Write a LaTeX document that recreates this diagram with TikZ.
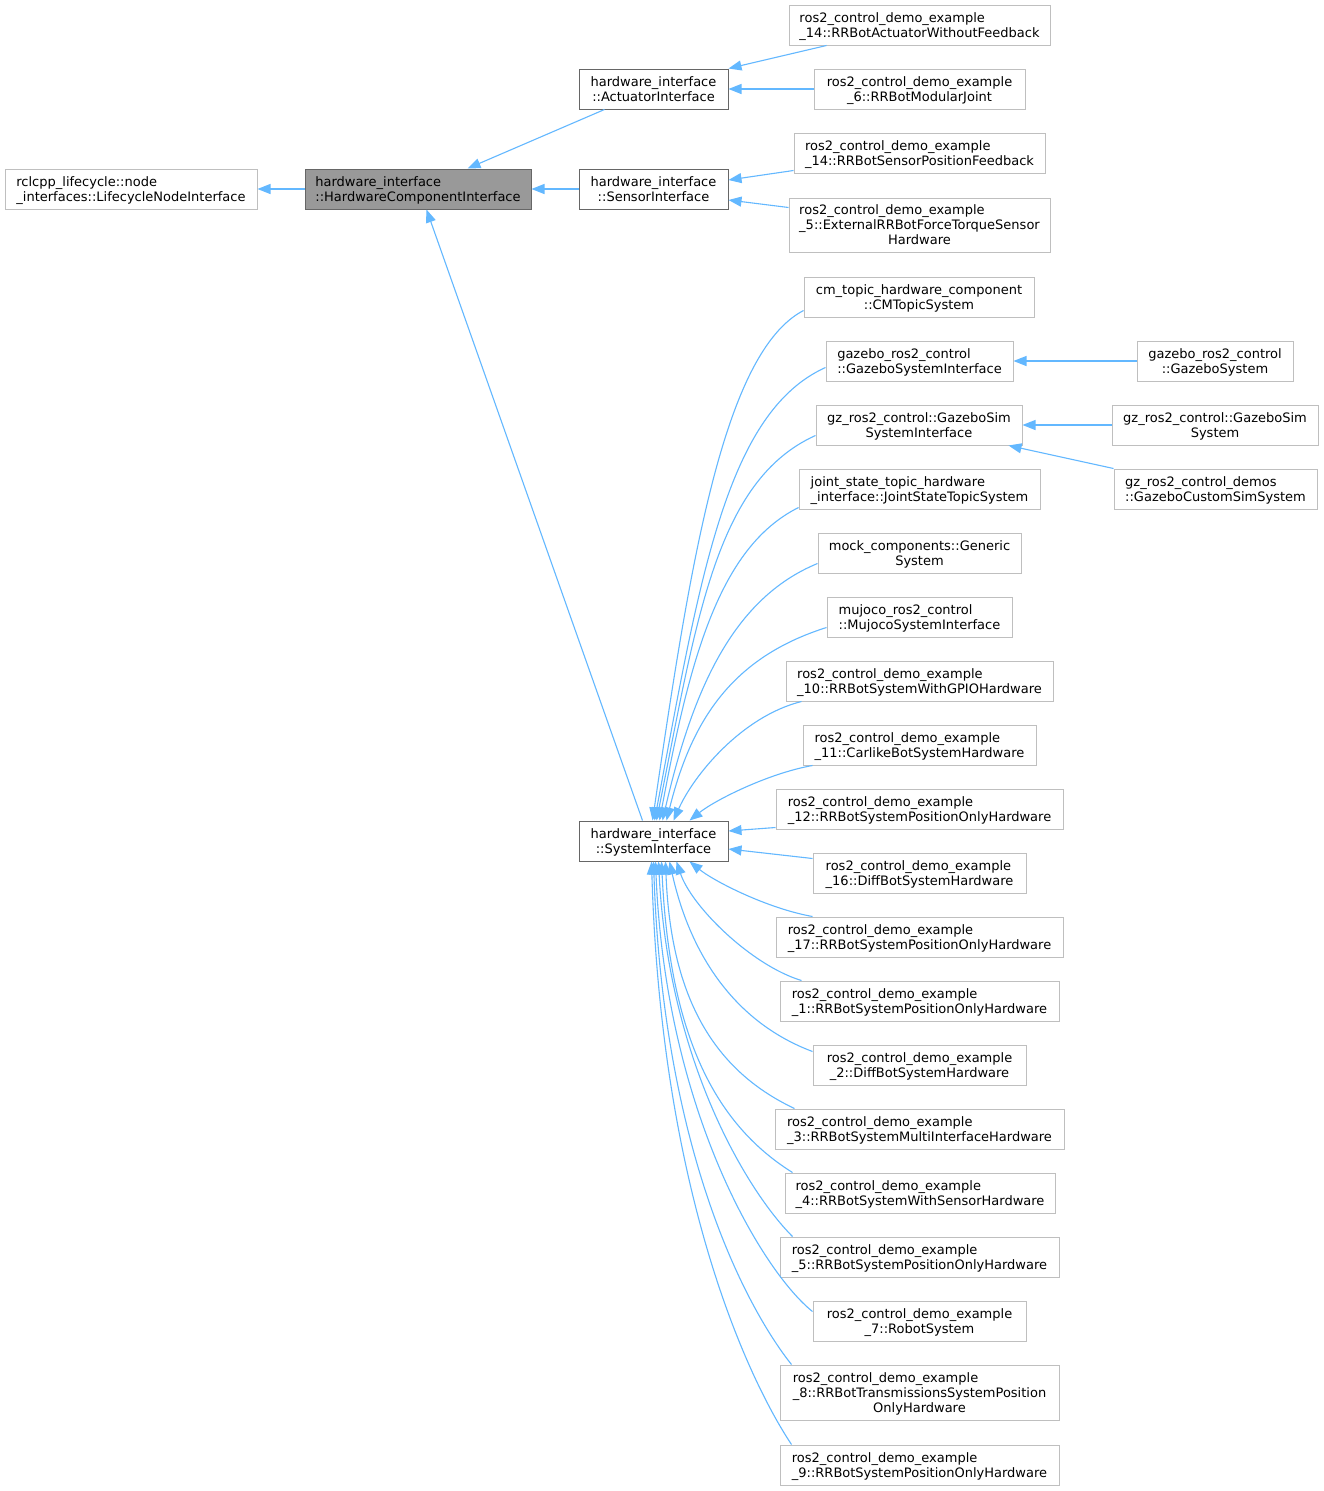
\documentclass[tikz,border=0pt]{standalone}
\usepackage{fontspec}
\setmainfont{DejaVu Sans}
\usetikzlibrary{arrows.meta}
\definecolor{edgec}{HTML}{63B8FF}
\definecolor{docb}{HTML}{666666}
\definecolor{extb}{HTML}{BFBFBF}
\definecolor{curf}{HTML}{999999}
\newcommand{\twoline}[2]{\raisebox{-1.5pt}[\height][\depth]{\begin{tabular}{@{}l@{}}#1\\\multicolumn{1}{@{}c@{}}{#2}\end{tabular}}}
\newcommand{\threeline}[3]{\raisebox{-1.5pt}[\height][\depth]{\begin{tabular}{@{}l@{}}#1\\#2\\\multicolumn{1}{@{}c@{}}{#3}\end{tabular}}}
\newcommand{\rex}{ros2\_control\_demo\_example}
\begin{document}
\begin{tikzpicture}[x=1pt,y=-1pt,
  cls/.style={rectangle, inner sep=0pt, minimum height=40pt, line width=1pt, font=\fontsize{13}{15}\selectfont, text=black, fill=white},
  leaf/.style={cls, draw=extb},
  doc/.style={cls, draw=docb},
  cur/.style={cls, draw=docb, fill=curf},
  inh/.style={draw=edgec, line width=1.1pt, -{Triangle[length=13pt,width=10pt]}}]
\useasboundingbox[fill=white] (0,0) rectangle (1324,1491);

% nodes
\node[leaf, minimum width=252pt] (life) at (131,189) {\twoline{rclcpp\_lifecycle::node}{\_interfaces::LifecycleNodeInterface}};
\node[cur, minimum width=226pt] (hwc) at (418,189) {\twoline{hardware\_interface}{::HardwareComponentInterface}};
\node[doc, minimum width=149pt] (act) at (653.5,89) {\twoline{hardware\_interface}{::ActuatorInterface}};
\node[doc, minimum width=149pt] (sen) at (653.5,189) {\twoline{hardware\_interface}{::SensorInterface}};
\node[doc, minimum width=149pt] (sys) at (653.5,841) {\twoline{hardware\_interface}{::SystemInterface}};

\node[leaf, minimum width=261pt] (a14) at (919.5,25) {\twoline{\rex}{\_14::RRBotActuatorWithoutFeedback}};
\node[leaf, minimum width=211pt] (a6) at (919.5,89) {\twoline{\rex}{\_6::RRBotModularJoint}};
\node[leaf, minimum width=251pt] (s14) at (919.5,153) {\twoline{\rex}{\_14::RRBotSensorPositionFeedback}};
\node[leaf, minimum width=261pt, minimum height=54pt] (s5) at (919.5,225) {\threeline{\rex}{\_5::ExternalRRBotForceTorqueSensor}{Hardware}};

\node[leaf, minimum width=230pt] (cm) at (919,297) {\twoline{cm\_topic\_hardware\_component}{::CMTopicSystem}};
\node[leaf, minimum width=187pt] (gzi) at (919.5,361) {\twoline{gazebo\_ros2\_control}{::GazeboSystemInterface}};
\node[leaf, minimum width=156pt] (gzs) at (1215,361) {\twoline{gazebo\_ros2\_control}{::GazeboSystem}};
\node[leaf, minimum width=206pt] (gzsi) at (919,425) {\twoline{gz\_ros2\_control::GazeboSim}{SystemInterface}};
\node[leaf, minimum width=206pt] (gzss) at (1215,425) {\twoline{gz\_ros2\_control::GazeboSim}{System}};
\node[leaf, minimum width=203pt] (gzd) at (1215.5,489) {\twoline{gz\_ros2\_control\_demos}{::GazeboCustomSimSystem}};
\node[leaf, minimum width=241pt] (jst) at (919.5,489) {\twoline{joint\_state\_topic\_hardware}{\_interface::JointStateTopicSystem}};
\node[leaf, minimum width=203pt] (mock) at (919.5,553) {\twoline{mock\_components::Generic}{System}};
\node[leaf, minimum width=185pt] (muj) at (919.5,617) {\twoline{mujoco\_ros2\_control}{::MujocoSystemInterface}};
\node[leaf, minimum width=267pt] (e10) at (919.5,681) {\twoline{\rex}{\_10::RRBotSystemWithGPIOHardware}};
\node[leaf, minimum width=233pt] (e11) at (919.5,745) {\twoline{\rex}{\_11::CarlikeBotSystemHardware}};
\node[leaf, minimum width=287pt] (e12) at (919.5,809) {\twoline{\rex}{\_12::RRBotSystemPositionOnlyHardware}};
\node[leaf, minimum width=213pt] (e16) at (919.5,873) {\twoline{\rex}{\_16::DiffBotSystemHardware}};
\node[leaf, minimum width=287pt] (e17) at (919.5,937) {\twoline{\rex}{\_17::RRBotSystemPositionOnlyHardware}};
\node[leaf, minimum width=279pt] (e1) at (919.5,1001) {\twoline{\rex}{\_1::RRBotSystemPositionOnlyHardware}};
\node[leaf, minimum width=213pt] (e2) at (919.5,1065) {\twoline{\rex}{\_2::DiffBotSystemHardware}};
\node[leaf, minimum width=289pt] (e3) at (919.5,1129) {\twoline{\rex}{\_3::RRBotSystemMultiInterfaceHardware}};
\node[leaf, minimum width=270pt] (e4) at (920,1193) {\twoline{\rex}{\_4::RRBotSystemWithSensorHardware}};
\node[leaf, minimum width=279pt] (e5) at (919.5,1257) {\twoline{\rex}{\_5::RRBotSystemPositionOnlyHardware}};
\node[leaf, minimum width=213pt] (e7) at (919.5,1321) {\twoline{\rex}{\_7::RobotSystem}};
\node[leaf, minimum width=279pt, minimum height=55pt] (e8) at (919.5,1392.5) {\threeline{\rex}{\_8::RRBotTransmissionsSystemPosition}{OnlyHardware}};
\node[leaf, minimum width=279pt] (e9) at (919.5,1465) {\twoline{\rex}{\_9::RRBotSystemPositionOnlyHardware}};

% straight edges
\draw[inh] (hwc.west) -- (life.east);
\draw[inh] (sen.west) -- (hwc.east);
\draw[inh] ([xshift=26pt]act.south west) -- ([xshift=163pt]hwc.north west);
\draw[inh] ([xshift=64pt]sys.north west) -- ([xshift=122pt]hwc.south west);
\draw[inh] ([xshift=38pt]a14.south west) -- (act.north east);
\draw[inh] (a6.west) -- (act.east);
\draw[inh] ([yshift=3pt]s14.south west) -- ([yshift=9pt]sen.east);
\draw[inh] ([yshift=-10pt]s5.north west) -- ([yshift=-11pt]sen.east);
\draw[inh] (gzs.west) -- (gzi.east);
\draw[inh] (gzss.west) -- (gzsi.east);
\draw[inh] (gzd.north west) -- ([xshift=-14pt]gzsi.south east);
\draw[inh] ([yshift=2pt]e12.south west) -- ([yshift=10pt]sys.east);
\draw[inh] ([yshift=-6pt]e16.north west) -- ([yshift=-8pt]sys.east);

% curved edges into the top of SystemInterface
\draw[inh] ([yshift=7pt]cm.south west) .. controls +(-80,42) and +(38,-260) .. ([xshift=74pt]sys.north west);
\draw[inh] ([yshift=14pt]gzi.south west) .. controls +(-100,45) and +(45,-240) .. ([xshift=76pt]sys.north west);
\draw[inh] ([yshift=10pt]gzsi.south west) .. controls +(-100,45) and +(40,-200) .. ([xshift=78pt]sys.north west);
\draw[inh] ([yshift=2pt]jst.south west) .. controls +(-80,40) and +(30,-160) .. ([xshift=81pt]sys.north west);
\draw[inh] ([yshift=10pt]mock.south west) .. controls +(-85,35) and +(30,-130) .. ([xshift=84pt]sys.north west);
\draw[inh] ([yshift=10pt]muj.south west) .. controls +(-95,30) and +(25,-100) .. ([xshift=88pt]sys.north west);
\draw[inh] ([xshift=16pt]e10.south west) .. controls +(-60,15) and +(20,-45) .. ([xshift=95pt]sys.north west);
\draw[inh] ([xshift=10pt]e11.south west) .. controls +(-45,8) and +(25,-20) .. ([xshift=111pt]sys.north west);

% curved edges into the bottom of SystemInterface
\draw[inh] ([xshift=37pt]e17.north west) .. controls +(-45,-8) and +(25,20) .. ([xshift=111pt]sys.south west);
\draw[inh] ([xshift=22pt]e1.north west) .. controls +(-50,-15) and +(15,45) .. ([xshift=98pt]sys.south west);
\draw[inh] ([yshift=-7pt]e2.north west) .. controls +(-80,-30) and +(20,90) .. ([xshift=91pt]sys.south west);
\draw[inh] ([xshift=20pt]e3.north west) .. controls +(-85,-40) and +(5,130) .. ([xshift=87pt]sys.south west);
\draw[inh] ([xshift=8pt]e4.north west) .. controls +(-80,-50) and +(8,170) .. ([xshift=83pt]sys.south west);
\draw[inh] ([xshift=13pt]e5.north west) .. controls +(-45,-45) and +(10,200) .. ([xshift=80pt]sys.south west);
\draw[inh] ([yshift=-11pt]e7.north west) .. controls +(-50,-40) and +(10,250) .. ([xshift=77pt]sys.south west);
\draw[inh] ([xshift=12pt]e8.north west) .. controls +(-40,-50) and +(10,300) .. ([xshift=75pt]sys.south west);
\draw[inh] ([xshift=12pt]e9.north west) .. controls +(-40,-60) and +(10,340) .. ([xshift=73pt]sys.south west);
\end{tikzpicture}
\end{document}
